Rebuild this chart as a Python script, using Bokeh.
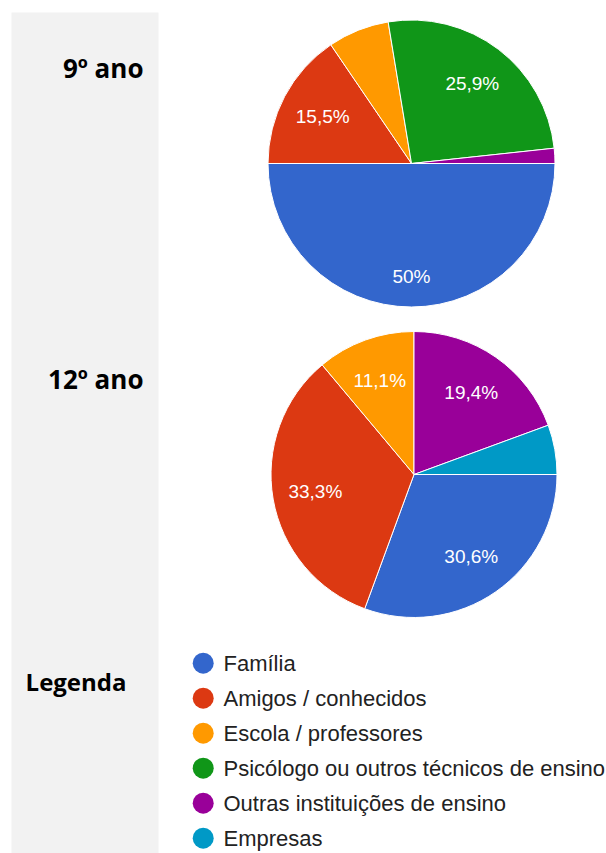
import math
from bokeh.plotting import figure
from bokeh.models import Range1d, ColumnDataSource
from bokeh.core.properties import value
from bokeh.embed import file_html
from bokeh.resources import INLINE

# ---- data ----
categories = ["Família", "Amigos / conhecidos", "Escola / professores",
              "Psicólogo ou outros técnicos de ensino",
              "Outras instituições de ensino", "Empresas"]
colors = ["#3366cc", "#dc3912", "#ff9900", "#109618", "#990099", "#0099c6"]
ano9 = [50.0, 15.5, 6.9, 25.9, 1.7, 0.0]
ano12 = [30.6, 33.3, 11.1, 0.0, 19.4, 5.6]
group_titles = ["9º ano", "12º ano"]
legend_title = "Legenda"

# ---- layout (pixels) ----
W, H = 606, 853


def sx(X):
    return X


def sy(Y):
    return H - Y


p = figure(width=W, height=H, x_range=Range1d(0, W), y_range=Range1d(0, H),
           output_backend="svg", toolbar_location=None,
           x_axis_location=None, y_axis_location=None, min_border=0)
p.grid.visible = False
p.outline_line_color = None
p.background_fill_color = "white"
p.border_fill_color = "white"

# grey side panel
p.quad(left=sx(11), right=sx(158), top=sy(12), bottom=0,
       fill_color="#f2f2f2", line_color=None)

LABEL_FONT = value("Liberation Sans")


def draw_pie(vals, cx, cy, r):
    total = sum(vals)
    starts, ends, cols, lx, ly, lt = [], [], [], [], [], []
    cum = 0.0
    for v, c in zip(vals, colors):
        if v <= 0:
            continue
        a0 = -2 * math.pi * cum / total
        cum += v
        a1 = -2 * math.pi * cum / total
        starts.append(a0)
        ends.append(a1)
        cols.append(c)
        if v >= 10:
            mid = (a0 + a1) / 2
            k = 0.79 if v >= 45 else 0.70
            lx.append(cx + k * r * math.cos(mid))
            ly.append(cy + k * r * math.sin(mid))
            txt = ("%d%%" % v) if float(v).is_integer() else (("%.1f" % v).replace(".", ",") + "%")
            lt.append(txt)
    src = ColumnDataSource(dict(s=starts, e=ends, c=cols))
    p.wedge(x=cx, y=cy, radius=r, start_angle="s", end_angle="e",
            direction="clock", fill_color="c", line_color="white",
            line_width=1, source=src)
    p.text(x=lx, y=ly, text=lt, text_color="white", text_font=LABEL_FONT,
           text_font_size="19px", text_align="center", text_baseline="middle")


draw_pie(ano9, sx(411), sy(163), 143.5)
draw_pie(ano12, sx(413.5), sy(474), 143)

# group titles
TITLE_FONT = value("Open Sans")
p.text(x=[sx(143), sx(143)], y=[sy(67.5), sy(378.5)], text=group_titles,
       text_font=TITLE_FONT, text_font_style="bold", text_font_size="26px",
       text_color="black", text_align="right", text_baseline="middle")
p.text(x=[sx(126)], y=[sy(681)], text=[legend_title],
       text_font=TITLE_FONT, text_font_style="bold", text_font_size="24px",
       text_color="black", text_align="right", text_baseline="middle")

# legend
n = len(categories)
ly_c = [sy(662.7 + 35 * i) for i in range(n)]
p.scatter(x=[sx(202.7)] * n, y=ly_c, size=21, fill_color=colors,
          line_color=None, marker="circle")
p.text(x=[sx(223)] * n, y=ly_c, text=categories, text_font=LABEL_FONT,
       text_font_size="22px", text_color="#222222", text_align="left",
       text_baseline="middle")

open("out.html", "w").write(file_html(p, INLINE))
